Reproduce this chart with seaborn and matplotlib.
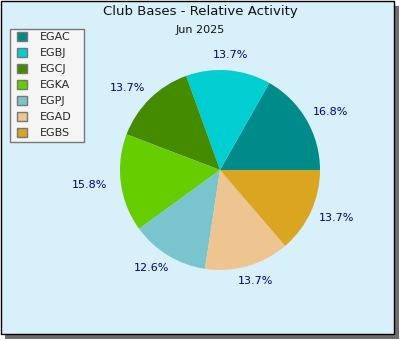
import numpy as np
import matplotlib
matplotlib.use("Agg")
import matplotlib.pyplot as plt
from matplotlib.patches import Rectangle, Patch
import seaborn as sns

sns.set_theme(style="white")
plt.rcParams['font.family'] = ['DejaVu Sans']

categories = ["EGAC", "EGBJ", "EGCJ", "EGKA", "EGPJ", "EGAD", "EGBS"]
values = [16.8, 13.7, 13.7, 15.8, 12.6, 13.7, 13.7]
colors = ["#008b8b", "#00ced1", "#458b00", "#66cd00", "#7ac5cd", "#eec591", "#daa520"]
title = "Club Bases - Relative Activity"
subtitle = "Jun 2025"

W, H = 400, 340
fig = plt.figure(figsize=(W / 100, H / 100), dpi=100)
fig.patch.set_facecolor("white")

# shadow and panel
fig.patches.append(Rectangle((5 / W, 1 / H), 394 / W, 333 / H, transform=fig.transFigure,
                             facecolor="#6e6e6e", edgecolor="none", zorder=-3))
fig.patches.append(Rectangle((0.5 / W, 6 / H), 393.5 / W, 333.5 / H, transform=fig.transFigure,
                             facecolor="#d7f0fa", edgecolor="black", linewidth=1.0, zorder=-2))
# legend box
fig.patches.append(Rectangle((9.5 / W, (H - 142) / H), 74 / W, 113 / H, transform=fig.transFigure,
                             facecolor="#f5f5f5", edgecolor="#777777", linewidth=1.0, zorder=-1))

fig.text(200 / W, 1 - 12 / H, title, ha="center", va="center", fontsize=9.5, color="#111111")
fig.text(200 / W, 1 - 30 / H, subtitle, ha="center", va="center", fontsize=8, color="#111111")

ax = fig.add_axes([120 / W, (H - 270) / H, 200 / W, 200 / H])
ax.set_zorder(2)
ax.set_facecolor("none")
PD = 1.1
wedges, texts, autotexts = ax.pie(values, colors=colors, startangle=0, counterclock=True,
                                  autopct="%.1f%%", pctdistance=PD, radius=1.0,
                                  textprops=dict(fontsize=8, color="#00008b"),
                                  wedgeprops=dict(linewidth=0))
# push labels outward like an ellipse around the text box
for t in autotexts:
    x, y = t.get_position()
    sx = 1.28 if x > 0 else 1.32
    t.set_position((x * sx / PD, y * 1.15 / PD))
    t.set_ha("center")
    t.set_va("center")
ax.set_xlim(-1, 1)
ax.set_ylim(-1, 1)
ax.set_aspect("equal")
ax.axis("off")

handles = [Patch(facecolor=c, edgecolor="#777777", linewidth=1) for c in colors]
leg = fig.legend(handles, categories, loc="upper left",
                 bbox_to_anchor=(17 / W, 1 - 31.5 / H), bbox_transform=fig.transFigure,
                 fontsize=8, frameon=False, handlelength=0.9, handleheight=0.9,
                 handletextpad=1.2, labelspacing=0.5, borderpad=0, borderaxespad=0)
leg.set_zorder(5)

fig.savefig("out.png", dpi=100)
